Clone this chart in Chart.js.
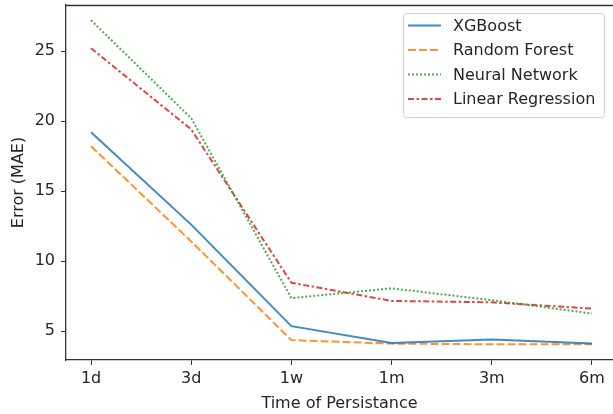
<!DOCTYPE html>
<html>
<head>
<meta charset="utf-8">
<script src="https://cdn.jsdelivr.net/npm/chart.js@4/dist/chart.umd.min.js"></script>
<style>
  html, body { margin: 0; padding: 0; background: #fff; overflow: hidden; }
  #wrap { width: 613px; height: 414px; }
</style>
</head>
<body>
<div id="wrap"><canvas id="chart"></canvas></div>
<script>
// Données
const periodes = ["1d", "3d", "1w", "1m", "3m", "6m"];
const xgboost = [19.2, 12.6, 5.35, 4.15, 4.4, 4.1];
const randomForest = [18.2, 11.4, 4.35, 4.1, 4.05, 4.05];
const neuralNetwork = [27.2, 20.2, 7.35, 8.05, 7.2, 6.25];
const linearRegression = [25.2, 19.4, 8.45, 7.15, 7.05, 6.6];
const yTicks = [5, 10, 15, 20, 25];

const series = [
  { nom: "XGBoost", valeurs: xgboost, couleur: "rgba(31,119,180,0.85)", dash: [] },
  { nom: "Random Forest", valeurs: randomForest, couleur: "rgba(255,127,14,0.85)", dash: [8, 3] },
  { nom: "Neural Network", valeurs: neuralNetwork, couleur: "rgba(44,160,44,0.85)", dash: [2, 2] },
  { nom: "Linear Regression", valeurs: linearRegression, couleur: "rgba(214,39,40,0.85)", dash: [6, 2.5, 2.5, 2.5] }
];

const police = "'DejaVu Sans', sans-serif";
const texte = "#262626";
const taille = 16;

// Bordure du haut (la droite est hors cadre)
const cadre = {
  id: "cadre",
  afterDraw(chart) {
    const { ctx, chartArea: a } = chart;
    ctx.save();
    ctx.strokeStyle = "#333";
    ctx.lineWidth = 1.3;
    ctx.beginPath();
    ctx.moveTo(a.left, a.top + 0.5);
    ctx.lineTo(a.right, a.top + 0.5);
    ctx.stroke();
    ctx.restore();
  }
};

// Légende façon matplotlib
const legende = {
  id: "legende",
  afterDraw(chart) {
    const ctx = chart.ctx;
    const x = 403, y = 13, w = 201, h = 104;
    ctx.save();
    ctx.fillStyle = "rgba(255,255,255,0.8)";
    ctx.strokeStyle = "#d0d0d0";
    ctx.lineWidth = 1;
    ctx.beginPath();
    ctx.roundRect(x + 0.5, y + 0.5, w, h, 3);
    ctx.fill();
    ctx.stroke();
    ctx.font = taille + "px " + police;
    ctx.textBaseline = "middle";
    series.forEach((s, i) => {
      const ly = 25.5 + i * 24.5;
      ctx.strokeStyle = s.couleur;
      ctx.lineWidth = 2;
      ctx.setLineDash(s.dash);
      ctx.beginPath();
      ctx.moveTo(408, ly);
      ctx.lineTo(441, ly);
      ctx.stroke();
      ctx.setLineDash([]);
      ctx.fillStyle = texte;
      ctx.fillText(s.nom, 453, ly + 1);
    });
    ctx.restore();
  }
};

new Chart(document.getElementById("chart"), {
  type: "line",
  data: {
    datasets: series.map(s => ({
      label: s.nom,
      data: s.valeurs.map((v, i) => ({ x: i, y: v })),
      borderColor: s.couleur,
      borderDash: s.dash,
      borderWidth: 2,
      pointRadius: 0,
      tension: 0,
      fill: false
    }))
  },
  options: {
    responsive: true,
    maintainAspectRatio: false,
    animation: false,
    layout: { padding: { top: 5, right: 0, left: 0, bottom: 0 } },
    plugins: {
      legend: { display: false },
      tooltip: { enabled: false }
    },
    scales: {
      x: {
        type: "linear",
        min: -0.25,
        max: 5.21,
        afterBuildTicks: scale => { scale.ticks = periodes.map((p, i) => ({ value: i })); },
        afterFit: scale => { scale.height = 54; scale.paddingLeft = 0; scale.paddingRight = 0; },
        grid: { drawOnChartArea: false, drawTicks: true, tickLength: 5, color: "#333" },
        border: { display: true, color: "#333", width: 1.3 },
        ticks: {
          color: texte,
          font: { family: police, size: taille },
          padding: 4,
          maxRotation: 0,
          callback: v => periodes[v]
        },
        title: {
          display: true,
          text: "Time of Persistance",
          color: texte,
          font: { family: police, size: taille },
          padding: { top: 2, bottom: 1 }
        }
      },
      y: {
        min: 2.93,
        max: 28.29,
        afterBuildTicks: scale => { scale.ticks = yTicks.map(v => ({ value: v })); },
        afterFit: scale => { scale.width = 66; scale.paddingTop = 0; scale.paddingBottom = 0; },
        grid: { drawOnChartArea: false, drawTicks: true, tickLength: 5, color: "#333" },
        border: { display: true, color: "#333", width: 1.3 },
        ticks: {
          color: texte,
          font: { family: police, size: taille },
          padding: 6
        },
        title: {
          display: true,
          text: "Error (MAE)",
          color: texte,
          font: { family: police, size: taille },
          padding: { top: 9, bottom: 2 }
        }
      }
    }
  },
  plugins: [cadre, legende]
});
</script>
</body>
</html>
